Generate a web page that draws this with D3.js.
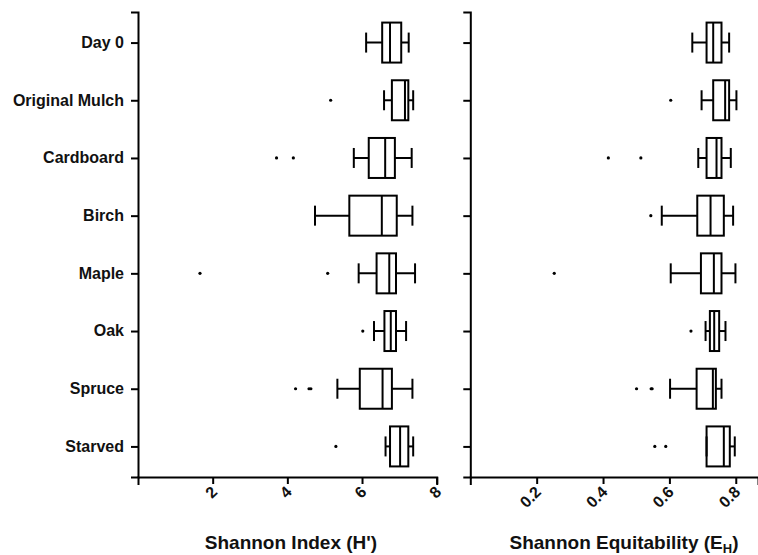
<!DOCTYPE html>
<html>
<head>
<meta charset="utf-8">
<script src="https://cdn.jsdelivr.net/npm/d3@7"></script>
<style>
body { margin: 0; background: #fff; }
svg { font-family: "Liberation Sans", Arial, sans-serif; }
</style>
</head>
<body>
<div class="chart"></div>
<script>
let W = 758, H = 555;

const categories = ["Day 0", "Original Mulch", "Cardboard", "Birch", "Maple", "Oak", "Spruce", "Starved"];

// [whisker low, Q1, median, Q3, whisker high]
const shannonStats = [
	[6.11, 6.54, 6.75, 7.05, 7.25],
	[6.59, 6.80, 7.15, 7.24, 7.37],
	[5.78, 6.18, 6.62, 6.88, 7.33],
	[4.74, 5.66, 6.53, 6.93, 7.35],
	[5.91, 6.39, 6.73, 6.91, 7.42],
	[6.32, 6.60, 6.77, 6.91, 7.18],
	[5.34, 5.94, 6.55, 6.80, 7.35],
	[6.63, 6.75, 7.02, 7.24, 7.37]
];
const shannonOutliers = [
	[],
	[5.16],
	[3.71, 4.16],
	[],
	[1.66, 5.08],
	[6.02],
	[4.22, 4.58, 4.63],
	[5.30]
];

const equitStats = [
	[0.669, 0.712, 0.732, 0.757, 0.780],
	[0.697, 0.732, 0.768, 0.780, 0.802],
	[0.687, 0.712, 0.742, 0.757, 0.785],
	[0.577, 0.684, 0.724, 0.764, 0.792],
	[0.604, 0.695, 0.734, 0.757, 0.799],
	[0.709, 0.722, 0.735, 0.750, 0.769],
	[0.602, 0.682, 0.731, 0.740, 0.757],
	[0.712, 0.712, 0.764, 0.782, 0.797]
];
const equitOutliers = [
	[],
	[0.604],
	[0.416, 0.514],
	[0.544],
	[0.253],
	[0.665],
	[0.501, 0.545, 0.548],
	[0.556, 0.589]
];

const shannonTicks = [2, 4, 6, 8];
const equitTicks = [0.2, 0.4, 0.6, 0.8];

let svg = d3.select('.chart')
	.append('svg')
	.attr('width', W)
	.attr('height', H);

const y = d3.scalePoint()
	.domain(categories)
	.range([12, 477])
	.padding(0.53);

let boxH = 40;

function panel(stats, outliers, x, ticks, fmt, showLabels) {
	let g = svg.append('g');

	// y axis
	let ya = g.append('g')
		.attr('transform', 'translate(' + x.range()[0] + ',0)')
		.call(d3.axisLeft(y).tickSizeOuter(0).tickSize(7));
	ya.select('.domain').attr('stroke-width', 2);
	ya.selectAll('.tick line').attr('stroke-width', 2);
	ya.selectAll('.tick text')
		.attr('x', -14)
		.attr('dy', '0.3em')
		.attr('font-size', '16px')
		.attr('font-weight', 'bold')
		.attr('fill', '#111')
		.style('display', showLabels ? null : 'none');

	// x axis
	let xa = g.append('g')
		.attr('transform', 'translate(0,477)')
		.call(d3.axisBottom(x).tickValues(ticks).tickSizeOuter(0).tickSize(7).tickFormat(fmt));
	xa.select('.domain').attr('stroke-width', 2).attr('stroke-linecap', 'square');
	xa.selectAll('.tick line').attr('stroke-width', 2);
	xa.selectAll('.tick text')
		.attr('font-size', '16px')
		.attr('font-weight', 'bold')
		.attr('fill', '#111')
		.attr('text-anchor', 'end')
		.attr('dy', 0)
		.attr('y', 0)
		.attr('transform', 'translate(5,16) rotate(-45)');

	// boxes
	let boxes = g.selectAll('.box')
		.data(stats)
		.enter()
		.append('g')
		.attr('transform', function(d, i){ return 'translate(0,' + y(categories[i]) + ')'; });

	boxes.append('line') // whisker lines
		.attr('x1', function(d){ return x(d[0]); })
		.attr('x2', function(d){ return x(d[4]); })
		.attr('stroke', '#000')
		.attr('stroke-width', 2);
	boxes.append('rect')
		.attr('x', function(d){ return x(d[1]); })
		.attr('width', function(d){ return x(d[3]) - x(d[1]); })
		.attr('y', -boxH / 2)
		.attr('height', boxH)
		.attr('fill', '#fff')
		.attr('stroke', '#000')
		.attr('stroke-width', 2);
	boxes.append('line') // median
		.attr('x1', function(d){ return x(d[2]); })
		.attr('x2', function(d){ return x(d[2]); })
		.attr('y1', -boxH / 2)
		.attr('y2', boxH / 2)
		.attr('stroke', '#000')
		.attr('stroke-width', 2);
	[0, 4].forEach(function(k){
		boxes.append('line') // caps
			.attr('x1', function(d){ return x(d[k]); })
			.attr('x2', function(d){ return x(d[k]); })
			.attr('y1', -boxH / 4)
			.attr('y2', boxH / 4)
			.attr('stroke', '#000')
			.attr('stroke-width', 2);
	});

	// outliers
	outliers.forEach(function(arr, i){
		g.selectAll(null)
			.data(arr)
			.enter()
			.append('circle')
			.attr('cx', function(d){ return x(d); })
			.attr('cy', y(categories[i]))
			.attr('r', 1.6)
			.attr('fill', '#000');
	});

	return g;
}

const xH = d3.scaleLinear().domain([0, 8]).range([138, 436.7]);
const xE = d3.scaleLinear().domain([0, 0.867]).range([470.3, 758]);

panel(shannonStats, shannonOutliers, xH, shannonTicks, d3.format('d'), true);
panel(equitStats, equitOutliers, xE, equitTicks, d3.format('.1f'), false);

// axis titles
svg.append('text')
	.attr('x', 291)
	.attr('y', 549)
	.attr('text-anchor', 'middle')
	.attr('font-size', '19px')
	.attr('font-weight', 'bold')
	.attr('fill', '#111')
	.text("Shannon Index (H')");

let t2 = svg.append('text')
	.attr('x', 624)
	.attr('y', 549)
	.attr('text-anchor', 'middle')
	.attr('font-size', '19px')
	.attr('font-weight', 'bold')
	.attr('fill', '#111');
t2.append('tspan').text('Shannon Equitability (E');
t2.append('tspan').attr('font-size', '13px').attr('dy', 4).text('H');
t2.append('tspan').attr('dy', -4).text(')');
</script>
</body>
</html>
